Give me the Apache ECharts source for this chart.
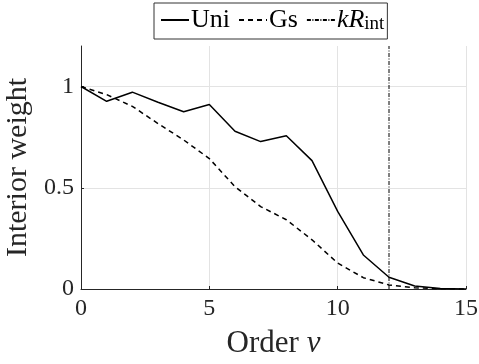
<!DOCTYPE html>
<html>
<head>
<meta charset="utf-8">
<script src="https://cdn.jsdelivr.net/npm/echarts@6/dist/echarts.min.js"></script>
<style>
  html, body { margin: 0; padding: 0; background: #fff; }
  #chart { width: 479px; height: 364px; }
</style>
</head>
<body>
<div id="chart"></div>
<script>
const order = [0, 1, 2, 3, 4, 5, 6, 7, 8, 9, 10, 11, 12, 13, 14, 15]
const uni = [1.0, 0.927, 0.972, 0.922, 0.875, 0.911, 0.779, 0.728, 0.757, 0.634, 0.383, 0.168, 0.058, 0.015, 0.003, 0.0]
const gs = [1.0, 0.96, 0.902, 0.817, 0.736, 0.644, 0.505, 0.407, 0.342, 0.243, 0.128, 0.056, 0.02, 0.006, 0.001, 0.0]
const kRint = 12
const xTicks = [0, 5, 10, 15]
const yTicks = [0, 0.5, 1]

const font = 'Liberation Serif'
const axisColor = '#262626'
const gridColor = '#e3e3e3'

const myChart = echarts.init(document.getElementById('chart'))

const option = {
  animation: false,
  textStyle: { fontFamily: font, color: axisColor },
  grid: { left: 81, right: 13, top: 46, bottom: 75, containLabel: false, outerBoundsMode: 'none' },
  legend: {
    top: 3,
    left: 154,
    itemWidth: 28,
    itemHeight: 10,
    itemGap: 8,
    padding: [4, 3, 5, 6],
    borderColor: '#333',
    borderWidth: 1,
    borderRadius: 0,
    itemStyle: { opacity: 0 },
    data: ['Uni', 'Gs', 'kRint'],
    formatter: (name) => name === 'kRint' ? '{i|kR}{s|int}' : name,
    textStyle: {
      fontFamily: font,
      fontSize: 26,
      color: '#000',
      padding: [0, 0, 0, -3],
      rich: {
        i: { fontFamily: font, fontSize: 26, fontStyle: 'italic', color: '#000' },
        s: { fontFamily: font, fontSize: 19, color: '#000', verticalAlign: 'bottom', padding: [9, 0, 0, 0] }
      }
    }
  },
  xAxis: {
    type: 'value',
    min: xTicks[0],
    max: xTicks[xTicks.length - 1],
    interval: 5,
    name: '{n|Order }{g|ν}',
    nameLocation: 'middle',
    nameGap: 39,
    nameTextStyle: {
      rich: {
        n: { fontFamily: font, fontSize: 31, color: axisColor },
        g: { fontFamily: font, fontSize: 31, fontStyle: 'italic', color: axisColor }
      }
    },
    axisLine: { show: true, lineStyle: { color: axisColor, width: 1 } },
    axisTick: { show: true, inside: true, length: 3, lineStyle: { color: axisColor } },
    axisLabel: { fontFamily: font, fontSize: 24, color: axisColor, margin: 8 },
    splitLine: { show: true, showMinLine: false, lineStyle: { color: gridColor, width: 1 } }
  },
  yAxis: {
    type: 'value',
    min: 0,
    max: 1.2,
    interval: 0.5,
    name: 'Interior weight',
    nameLocation: 'middle',
    nameGap: 42,
    nameTextStyle: { fontFamily: font, fontSize: 30, color: axisColor },
    axisLine: { show: true, lineStyle: { color: axisColor, width: 1 } },
    axisTick: { show: true, inside: true, length: 3, lineStyle: { color: axisColor } },
    axisLabel: {
      fontFamily: font, fontSize: 24, color: axisColor, margin: 7, showMaxLabel: false,
      formatter: (v) => yTicks.includes(v) ? String(v) : ''
    },
    splitLine: { show: true, showMinLine: false, showMaxLine: false, lineStyle: { color: gridColor, width: 1 } }
  },
  series: [
    {
      name: 'Uni',
      type: 'line',
      symbol: 'none',
      data: order.map((x, i) => [x, uni[i]]),
      lineStyle: { color: '#000', width: 1.5, type: 'solid' },
      itemStyle: { color: '#000' }
    },
    {
      name: 'Gs',
      type: 'line',
      symbol: 'none',
      data: order.map((x, i) => [x, gs[i]]),
      lineStyle: { color: '#000', width: 1.5, type: [5, 4] },
      itemStyle: { color: '#000' }
    },
    {
      name: 'kRint',
      type: 'line',
      symbol: 'none',
      data: [[kRint, 0], [kRint, 1.2]],
      lineStyle: { color: '#000', width: 1, type: [4, 1.5, 1, 1.5] },
      itemStyle: { color: '#000' }
    }
  ]
}

myChart.setOption(option)
</script>
</body>
</html>
